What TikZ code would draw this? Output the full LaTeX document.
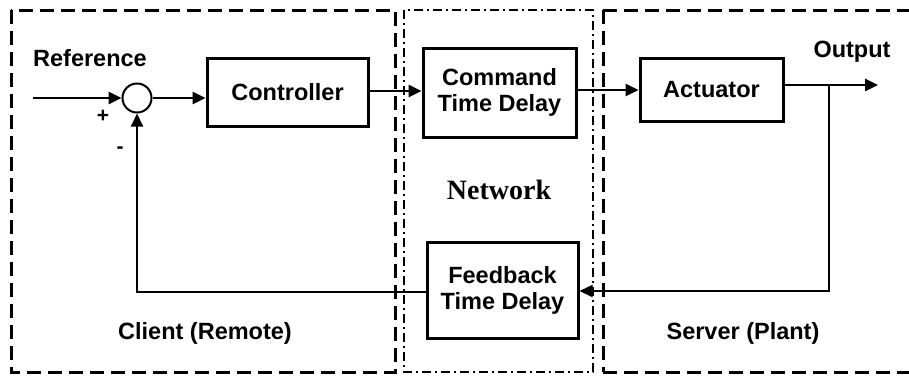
\documentclass[tikz,border=0pt]{standalone}
\usepackage{fontspec}
\setmainfont{Liberation Serif}
\setsansfont{Liberation Sans}
\usetikzlibrary{arrows.meta}
\tikzset{
  lbl/.style={font=\sffamily\bfseries\fontsize{23.5}{26}\selectfont, inner sep=0pt},
  sgn/.style={font=\sffamily\bfseries\fontsize{21}{23}\selectfont, inner sep=0pt},
  blk/.style={draw, line width=3pt, align=center, lbl},
  region/.style={line width=3pt, dash pattern=on 14pt off 7pt},
  netregion/.style={line width=2pt, dash pattern=on 9pt off 4pt on 2pt off 4pt},
  tip/.style={-{Triangle[length=13pt,width=12pt]}},
  sig/.style={line width=2.8pt, tip},
  fb/.style={line width=2pt},
}
\begin{document}
\begin{tikzpicture}[x=1pt,y=-1pt]
\useasboundingbox (0,0) rectangle (909,376);
% regions: client, network, server
\draw[region] (11,10) rectangle (395,372);
\draw[netregion] (404,10) rectangle (593,372);
\draw[region] (603,10) -- (915,10);
\draw[region] (603,372) -- (915,372);
\draw[region] (603,10) -- (603,372);
% blocks
\node[blk, minimum width=161pt, minimum height=68pt] (ctrl) at (287.5,92) {Controller};
\node[blk, minimum width=153pt, minimum height=89pt] (cmd) at (499.5,92.5) {Command\\Time Delay};
\node[blk, minimum width=143pt, minimum height=63pt] (act) at (711.5,89.5) {Actuator};
\node[blk, minimum width=151pt, minimum height=96pt] (fbd) at (502.5,290) {Feedback\\Time Delay};
\node[draw, circle, line width=2pt, minimum size=29pt, inner sep=0pt] (sum) at (137,98) {};
% labels
\node[lbl] (ref) at (90,58) {Reference};
\node[lbl] (out) at (852,52) {Output};
\node[sgn] (plus) at (103,116) {+};
\node[sgn] (minus) at (120,150) {-};
\node[font=\bfseries\fontsize{28}{30}\selectfont, inner sep=0pt] (net) at (499,190) {Network};
\node[lbl] (client) at (205,333) {Client (Remote)};
\node[lbl] (server) at (743,333) {Server (Plant)};
% free ends and corners of the loop
\coordinate (in) at (33,98);
\coordinate (outend) at (878,85);
\coordinate (tap) at (829,85);
\coordinate (tapdown) at (829,291);
\coordinate (fbleft) at (137,292);
% signal flow
\draw[sig] (in) -- (sum.west);
\draw[sig] (sum.east) -- (ctrl.west |- sum.east);
\draw[sig] (ctrl.east |- 0,91) -- (cmd.west |- 0,91);
\draw[sig] (cmd.east |- 0,90) -- (act.west |- 0,90);
\draw[sig] (act.east |- outend) -- (outend);
\draw[fb, tip] (tap) -- (tapdown) -- (fbd.east |- tapdown);
\draw[fb, tip] (fbd.west |- fbleft) -- (fbleft) -- (sum.south);
\end{tikzpicture}
\end{document}
